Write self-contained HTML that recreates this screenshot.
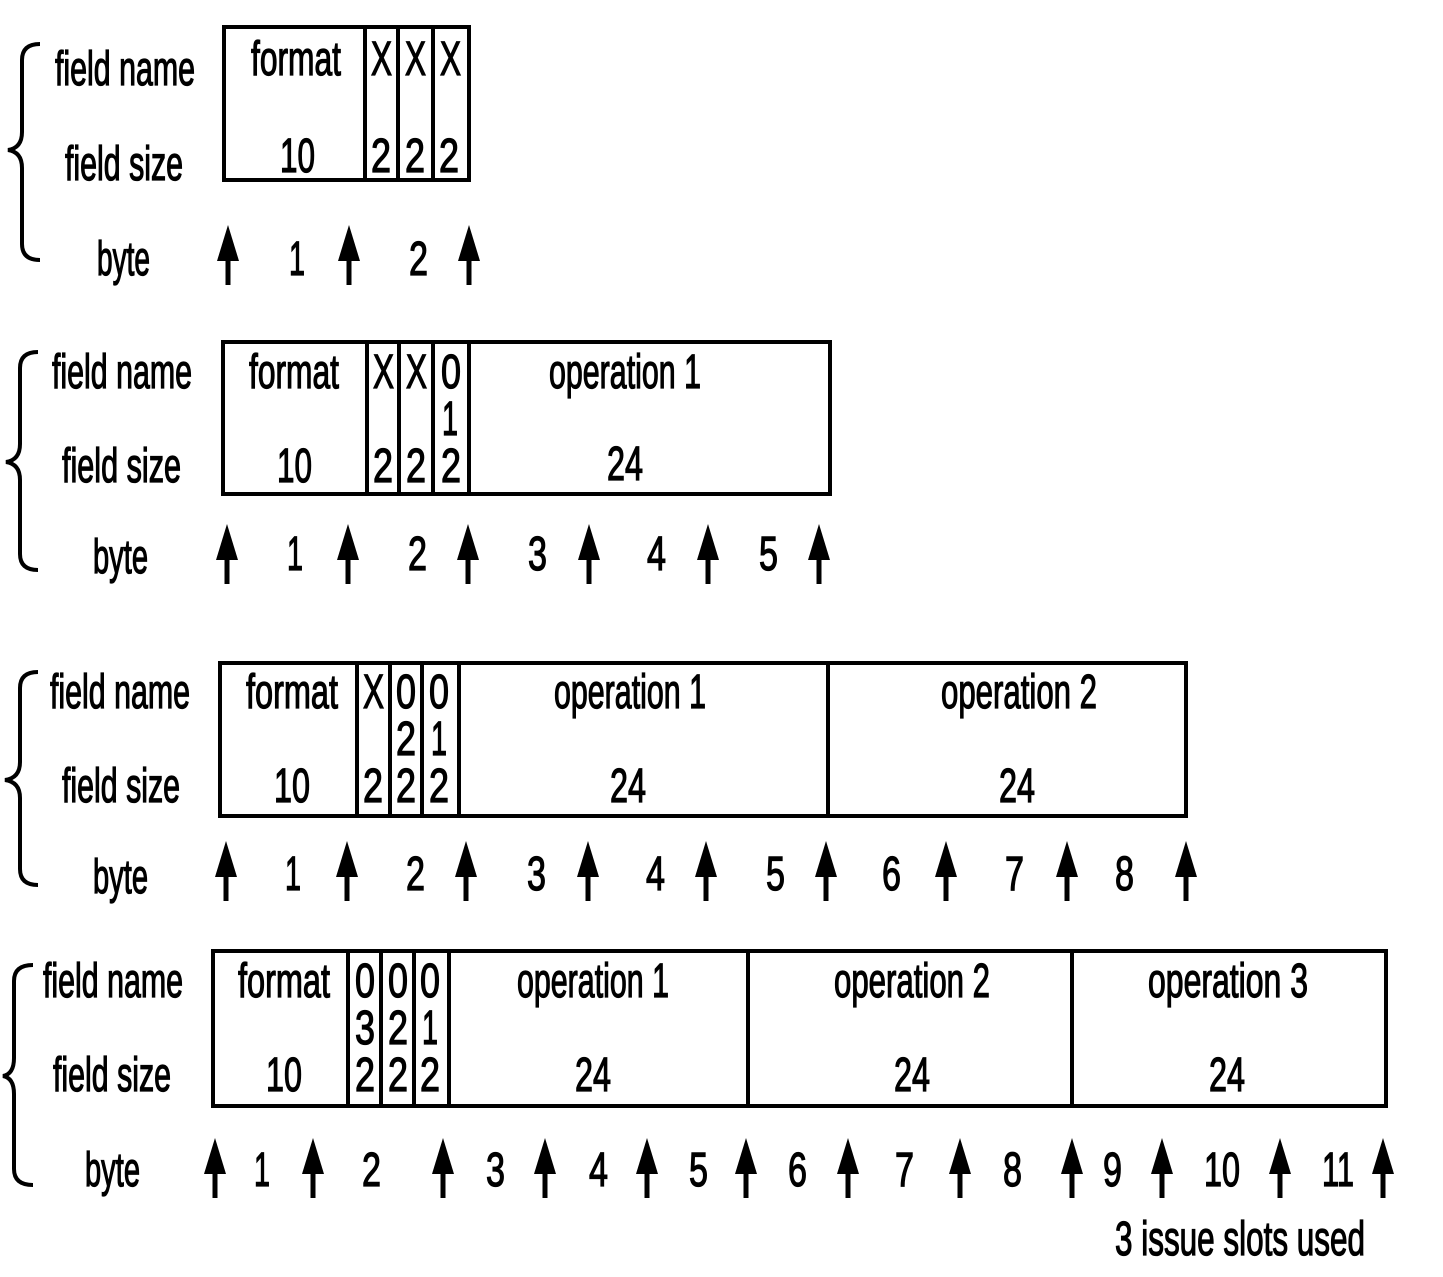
<!DOCTYPE html>
<html><head><meta charset="utf-8"><style>
html,body{margin:0;padding:0;background:#fff;}
svg{display:block;}
text{font-family:"Liberation Sans",sans-serif;font-size:48px;fill:#000;stroke:#000;stroke-width:1.3px;}
</style></head><body>
<svg width="1443" height="1277" viewBox="0 0 1443 1277" xmlns="http://www.w3.org/2000/svg">
<defs>
<g id="ar"><path d="M0,0 L-11,36 L11,36 Z" fill="#000"/><rect x="-2.5" y="30" width="5" height="30" fill="#000"/></g>
</defs>
<g fill="none" stroke="#000" stroke-width="4">
<path d="M40,44 Q22,44 22,60 L22,132 Q22,148 8,150 Q22,152 22,168 L22,244 Q22,260 40,260"/>
<path d="M38,352 Q20,352 20,368 L20,444 Q20,460 6,462 Q20,464 20,480 L20,554 Q20,570 38,570"/>
<path d="M38,672 Q20,672 20,688 L20,762 Q20,778 5,780 Q20,782 20,798 L20,869 Q20,885 38,885"/>
<path d="M33,965 Q14,965 14,981 L14,1058 Q14,1074 3,1076 Q14,1078 14,1094 L14,1169 Q14,1185 33,1185"/>
<rect x="224" y="27" width="245" height="153"/>
<line x1="365" y1="27" x2="365" y2="180"/><line x1="398" y1="27" x2="398" y2="180"/><line x1="433" y1="27" x2="433" y2="180"/>
<rect x="223" y="342" width="607" height="152"/>
<line x1="367" y1="342" x2="367" y2="494"/><line x1="399" y1="342" x2="399" y2="494"/><line x1="433" y1="342" x2="433" y2="494"/><line x1="469" y1="342" x2="469" y2="494"/>
<rect x="220" y="663" width="966" height="153"/>
<line x1="357" y1="663" x2="357" y2="816"/><line x1="390" y1="663" x2="390" y2="816"/><line x1="422" y1="663" x2="422" y2="816"/><line x1="459" y1="663" x2="459" y2="816"/><line x1="828" y1="663" x2="828" y2="816"/>
<rect x="213" y="951" width="1173" height="155"/>
<line x1="348" y1="951" x2="348" y2="1106"/><line x1="381" y1="951" x2="381" y2="1106"/><line x1="414" y1="951" x2="414" y2="1106"/><line x1="449" y1="951" x2="449" y2="1106"/><line x1="748" y1="951" x2="748" y2="1106"/><line x1="1072" y1="951" x2="1072" y2="1106"/>
</g>
<use href="#ar" x="228" y="225"/><use href="#ar" x="349" y="225"/><use href="#ar" x="469" y="225"/>
<use href="#ar" x="227" y="524"/><use href="#ar" x="348" y="524"/><use href="#ar" x="468" y="524"/><use href="#ar" x="589" y="524"/><use href="#ar" x="708" y="524"/><use href="#ar" x="819" y="524"/>
<use href="#ar" x="226" y="841"/><use href="#ar" x="347" y="841"/><use href="#ar" x="466" y="841"/><use href="#ar" x="588" y="841"/><use href="#ar" x="706" y="841"/><use href="#ar" x="826" y="841"/><use href="#ar" x="946" y="841"/><use href="#ar" x="1067" y="841"/><use href="#ar" x="1186" y="841"/>
<use href="#ar" x="215" y="1138"/><use href="#ar" x="313" y="1138"/><use href="#ar" x="443" y="1138"/><use href="#ar" x="545" y="1138"/><use href="#ar" x="647" y="1138"/><use href="#ar" x="746" y="1138"/><use href="#ar" x="848" y="1138"/><use href="#ar" x="960" y="1138"/><use href="#ar" x="1072" y="1138"/><use href="#ar" x="1162" y="1138"/><use href="#ar" x="1280" y="1138"/><use href="#ar" x="1383" y="1138"/>

<text x="55" y="85" textLength="140" lengthAdjust="spacingAndGlyphs">field name</text>
<text x="65" y="180" textLength="118" lengthAdjust="spacingAndGlyphs">field size</text>
<text x="97" y="275" textLength="53" lengthAdjust="spacingAndGlyphs">byte</text>
<text x="251" y="75" textLength="90" lengthAdjust="spacingAndGlyphs">format</text>
<text x="280" y="172" textLength="35" lengthAdjust="spacingAndGlyphs">10</text>
<text x="371" y="75" textLength="21" lengthAdjust="spacingAndGlyphs">X</text>
<text x="405" y="75" textLength="21" lengthAdjust="spacingAndGlyphs">X</text>
<text x="440" y="75" textLength="21" lengthAdjust="spacingAndGlyphs">X</text>
<text x="371" y="172" textLength="20" lengthAdjust="spacingAndGlyphs">2</text>
<text x="405" y="172" textLength="20" lengthAdjust="spacingAndGlyphs">2</text>
<text x="439" y="172" textLength="20" lengthAdjust="spacingAndGlyphs">2</text>
<text x="289" y="275" textLength="16" lengthAdjust="spacingAndGlyphs">1</text>
<text x="409" y="275" textLength="19" lengthAdjust="spacingAndGlyphs">2</text>

<text x="52" y="388" textLength="140" lengthAdjust="spacingAndGlyphs">field name</text>
<text x="62" y="482" textLength="119" lengthAdjust="spacingAndGlyphs">field size</text>
<text x="93" y="573" textLength="55" lengthAdjust="spacingAndGlyphs">byte</text>
<text x="249" y="388" textLength="90" lengthAdjust="spacingAndGlyphs">format</text>
<text x="277" y="482" textLength="35" lengthAdjust="spacingAndGlyphs">10</text>
<text x="373" y="388" textLength="21" lengthAdjust="spacingAndGlyphs">X</text>
<text x="406" y="388" textLength="21" lengthAdjust="spacingAndGlyphs">X</text>
<text x="441" y="388" textLength="20" lengthAdjust="spacingAndGlyphs">0</text>
<text x="442" y="435" textLength="16" lengthAdjust="spacingAndGlyphs">1</text>
<text x="373" y="482" textLength="20" lengthAdjust="spacingAndGlyphs">2</text>
<text x="406" y="482" textLength="20" lengthAdjust="spacingAndGlyphs">2</text>
<text x="441" y="482" textLength="20" lengthAdjust="spacingAndGlyphs">2</text>
<text x="549" y="388" textLength="152" lengthAdjust="spacingAndGlyphs">operation 1</text>
<text x="607" y="480" textLength="36" lengthAdjust="spacingAndGlyphs">24</text>
<text x="287" y="570" textLength="16" lengthAdjust="spacingAndGlyphs">1</text>
<text x="408" y="570" textLength="19" lengthAdjust="spacingAndGlyphs">2</text>
<text x="528" y="570" textLength="19" lengthAdjust="spacingAndGlyphs">3</text>
<text x="647" y="570" textLength="19" lengthAdjust="spacingAndGlyphs">4</text>
<text x="759" y="570" textLength="19" lengthAdjust="spacingAndGlyphs">5</text>

<text x="50" y="708" textLength="140" lengthAdjust="spacingAndGlyphs">field name</text>
<text x="62" y="802" textLength="118" lengthAdjust="spacingAndGlyphs">field size</text>
<text x="93" y="893" textLength="55" lengthAdjust="spacingAndGlyphs">byte</text>
<text x="246" y="708" textLength="92" lengthAdjust="spacingAndGlyphs">format</text>
<text x="274" y="802" textLength="36" lengthAdjust="spacingAndGlyphs">10</text>
<text x="363" y="708" textLength="21" lengthAdjust="spacingAndGlyphs">X</text>
<text x="396" y="708" textLength="20" lengthAdjust="spacingAndGlyphs">0</text>
<text x="396" y="755" textLength="20" lengthAdjust="spacingAndGlyphs">2</text>
<text x="429" y="708" textLength="20" lengthAdjust="spacingAndGlyphs">0</text>
<text x="431" y="755" textLength="16" lengthAdjust="spacingAndGlyphs">1</text>
<text x="363" y="802" textLength="20" lengthAdjust="spacingAndGlyphs">2</text>
<text x="396" y="802" textLength="20" lengthAdjust="spacingAndGlyphs">2</text>
<text x="429" y="802" textLength="20" lengthAdjust="spacingAndGlyphs">2</text>
<text x="554" y="708" textLength="152" lengthAdjust="spacingAndGlyphs">operation 1</text>
<text x="610" y="802" textLength="36" lengthAdjust="spacingAndGlyphs">24</text>
<text x="941" y="708" textLength="156" lengthAdjust="spacingAndGlyphs">operation 2</text>
<text x="999" y="802" textLength="36" lengthAdjust="spacingAndGlyphs">24</text>
<text x="285" y="890" textLength="16" lengthAdjust="spacingAndGlyphs">1</text>
<text x="406" y="890" textLength="19" lengthAdjust="spacingAndGlyphs">2</text>
<text x="527" y="890" textLength="19" lengthAdjust="spacingAndGlyphs">3</text>
<text x="646" y="890" textLength="19" lengthAdjust="spacingAndGlyphs">4</text>
<text x="766" y="890" textLength="19" lengthAdjust="spacingAndGlyphs">5</text>
<text x="882" y="890" textLength="19" lengthAdjust="spacingAndGlyphs">6</text>
<text x="1005" y="890" textLength="19" lengthAdjust="spacingAndGlyphs">7</text>
<text x="1115" y="890" textLength="19" lengthAdjust="spacingAndGlyphs">8</text>

<text x="43" y="997" textLength="140" lengthAdjust="spacingAndGlyphs">field name</text>
<text x="53" y="1091" textLength="118" lengthAdjust="spacingAndGlyphs">field size</text>
<text x="85" y="1186" textLength="55" lengthAdjust="spacingAndGlyphs">byte</text>
<text x="238" y="997" textLength="92" lengthAdjust="spacingAndGlyphs">format</text>
<text x="266" y="1091" textLength="36" lengthAdjust="spacingAndGlyphs">10</text>
<text x="355" y="997" textLength="20" lengthAdjust="spacingAndGlyphs">0</text>
<text x="355" y="1044" textLength="20" lengthAdjust="spacingAndGlyphs">3</text>
<text x="355" y="1091" textLength="20" lengthAdjust="spacingAndGlyphs">2</text>
<text x="388" y="997" textLength="20" lengthAdjust="spacingAndGlyphs">0</text>
<text x="388" y="1044" textLength="20" lengthAdjust="spacingAndGlyphs">2</text>
<text x="388" y="1091" textLength="20" lengthAdjust="spacingAndGlyphs">2</text>
<text x="420" y="997" textLength="20" lengthAdjust="spacingAndGlyphs">0</text>
<text x="422" y="1044" textLength="16" lengthAdjust="spacingAndGlyphs">1</text>
<text x="420" y="1091" textLength="20" lengthAdjust="spacingAndGlyphs">2</text>
<text x="517" y="997" textLength="152" lengthAdjust="spacingAndGlyphs">operation 1</text>
<text x="575" y="1091" textLength="36" lengthAdjust="spacingAndGlyphs">24</text>
<text x="834" y="997" textLength="156" lengthAdjust="spacingAndGlyphs">operation 2</text>
<text x="894" y="1091" textLength="36" lengthAdjust="spacingAndGlyphs">24</text>
<text x="1148" y="997" textLength="160" lengthAdjust="spacingAndGlyphs">operation 3</text>
<text x="1209" y="1091" textLength="36" lengthAdjust="spacingAndGlyphs">24</text>
<text x="254" y="1186" textLength="16" lengthAdjust="spacingAndGlyphs">1</text>
<text x="362" y="1186" textLength="19" lengthAdjust="spacingAndGlyphs">2</text>
<text x="486" y="1186" textLength="19" lengthAdjust="spacingAndGlyphs">3</text>
<text x="589" y="1186" textLength="19" lengthAdjust="spacingAndGlyphs">4</text>
<text x="689" y="1186" textLength="19" lengthAdjust="spacingAndGlyphs">5</text>
<text x="788" y="1186" textLength="19" lengthAdjust="spacingAndGlyphs">6</text>
<text x="895" y="1186" textLength="19" lengthAdjust="spacingAndGlyphs">7</text>
<text x="1003" y="1186" textLength="19" lengthAdjust="spacingAndGlyphs">8</text>
<text x="1103" y="1186" textLength="19" lengthAdjust="spacingAndGlyphs">9</text>
<text x="1204" y="1186" textLength="36" lengthAdjust="spacingAndGlyphs">10</text>
<text x="1322" y="1186" textLength="32" lengthAdjust="spacingAndGlyphs">11</text>
<text x="1115" y="1255" textLength="250" lengthAdjust="spacingAndGlyphs">3 issue slots used</text>
</svg>
</body></html>
